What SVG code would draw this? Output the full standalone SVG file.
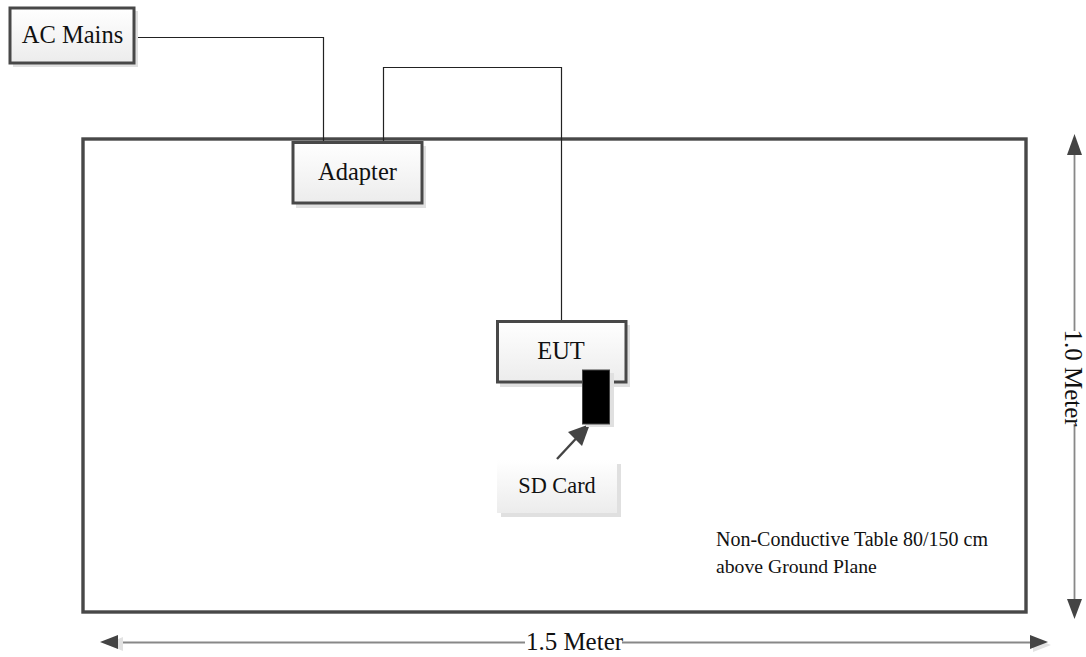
<svg xmlns="http://www.w3.org/2000/svg" width="1086" height="657" viewBox="0 0 1086 657">
<defs>
<linearGradient id="g" x1="0" y1="0" x2="0" y2="1"><stop offset="0" stop-color="#ffffff"/><stop offset="1" stop-color="#ececec"/></linearGradient>
</defs>
<style>
text{font-family:"Liberation Serif","Times New Roman",serif;fill:#111}
.box{fill:url(#g);stroke:#484848;stroke-width:3}
.sh{fill:#e0e0e0}
.wire{fill:none;stroke:#222;stroke-width:1.2}
.dim{fill:none;stroke:#888;stroke-width:1.8}
.head{fill:#444}
.headsh{fill:#e2e2e2}
.l{font-size:24.500px;text-anchor:middle}
</style>
<rect id="table" x="83" y="139" width="943" height="473" fill="#fff" stroke="#484848" stroke-width="3.4"/>
<g id="connectors">
<path class="wire" d="M134 37.500H323.500V142"/>
<path class="wire" d="M383.500 142V67.500H561.500V321"/>
<path d="M557 459L584 430" fill="none" stroke="#444" stroke-width="2.4"/>
<polygon class="head" points="590,424 582,446 568,432"/>
<path class="dim" d="M118 642.500H525M622 642.500H1034"/>
<polygon class="headsh" points="106,644 123,637 123,651"/>
<polygon class="head" points="100,642 118,635 118,649"/>
<polygon class="headsh" points="1051,645 1033,638 1033,652"/>
<polygon class="head" points="1048,642 1030,635 1030,649"/>
<path class="dim" d="M1074.500 150V331M1074.500 424V602"/>
<polygon class="head" points="1074.500,134 1082,155 1067,155"/>
<polygon class="head" points="1074.500,619 1067,599 1082,599"/>
</g>
<g id="ac-mains">
<rect class="sh" x="13" y="11" width="125" height="56"/>
<rect class="box" x="10" y="8" width="124" height="55"/>
<text class="l" x="72.500" y="43">AC Mains</text>
</g>
<g id="adapter">
<rect class="sh" x="296" y="146" width="130" height="62"/>
<rect class="box" x="293" y="142.500" width="129" height="60.500"/>
<text class="l" x="357.500" y="180">Adapter</text>
</g>
<g id="eut">
<rect class="sh" x="500" y="325" width="130" height="62"/>
<rect class="box" x="497.500" y="321.500" width="128.500" height="60.500"/>
<text class="l" x="561" y="359">EUT</text>
</g>
<g id="sd-slot">
<rect class="sh" x="586" y="373" width="28" height="54"/>
<rect x="582.500" y="370" width="27" height="54" fill="#000" stroke="#444"/>
</g>
<g id="sd-card">
<rect class="sh" x="501" y="464" width="120" height="53"/>
<rect x="497" y="460" width="120" height="53" fill="url(#g)"/>
<text x="557" y="493" font-size="22.300" text-anchor="middle">SD Card</text>
</g>
<g id="table-label">
<text x="716" y="546" font-size="20" textLength="272" lengthAdjust="spacingAndGlyphs">Non-Conductive Table 80/150 cm</text>
<text x="716" y="572.500" font-size="19.700">above Ground Plane</text>
</g>
<text id="width-label" x="574.500" y="650" font-size="25" text-anchor="middle">1.5 Meter</text>
<text id="height-label" transform="translate(1065 378) rotate(90)" font-size="25" text-anchor="middle">1.0 Meter</text>
</svg>
